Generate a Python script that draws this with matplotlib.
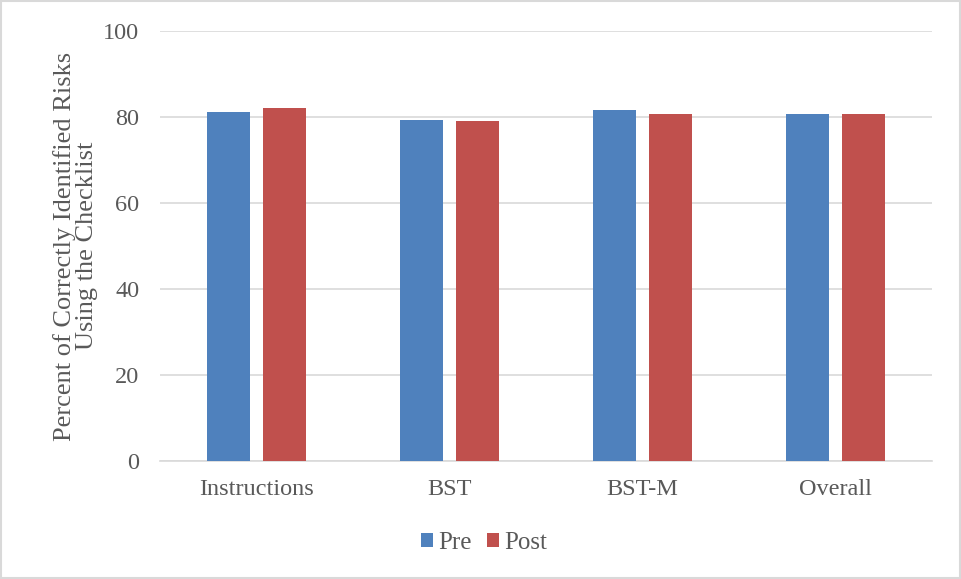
import numpy as np
import matplotlib.pyplot as plt
from matplotlib.patches import Rectangle

categories = ['Instructions', 'BST', 'BST-M', 'Overall']
pre = [81.1, 79.4, 81.7, 80.7]
post = [82.0, 79.1, 80.6, 80.6]

plt.rcParams['font.family'] = ['Liberation Serif', 'DejaVu Serif']

fig = plt.figure(figsize=(9.61, 5.79), dpi=100)
ax = fig.add_axes([0.1665, 0.2038, 0.803, 0.7427])

x = np.arange(len(categories))
w = 0.223
off = 0.145
ax.bar(x - off, pre, w, color='#4f81bd', label='Pre', zorder=3)
ax.bar(x + off, post, w, color='#c0504d', label='Post', zorder=3)

ax.set_xlim(-0.5, len(categories) - 0.5)
ax.set_ylim(0, 100)
ax.set_yticks(range(0, 101, 20))
ax.set_xticks(x)
ax.set_xticklabels(categories)
ax.grid(axis='y', color='#d9d9d9', linewidth=1.2, zorder=0)
for s in ['top', 'right', 'left']:
    ax.spines[s].set_visible(False)
ax.spines['bottom'].set_color('#d9d9d9')
ax.spines['bottom'].set_linewidth(1.2)
ax.tick_params(length=0, labelsize=17.5, colors='#595959')
ax.tick_params(axis='y', pad=15)
ax.tick_params(axis='x', pad=13)
ax.set_ylabel('Percent of Correctly Identified Risks\nUsing the Checklist',
              fontsize=19, color='#595959', linespacing=1.0)
ax.yaxis.set_label_coords(-0.081, 0.5)

fig.legend(loc='center', bbox_to_anchor=(0.504, 0.062), ncol=2, frameon=False,
           fontsize=18, handlelength=0.48, handleheight=0.48, handletextpad=0.22,
           columnspacing=0.6, labelcolor='#595959')

fig.patches.append(Rectangle((0.001, 0.001), 0.998, 0.997, transform=fig.transFigure,
                             fill=False, edgecolor='#d9d9d9', linewidth=1.5))

fig.savefig('out.png', dpi=100)
